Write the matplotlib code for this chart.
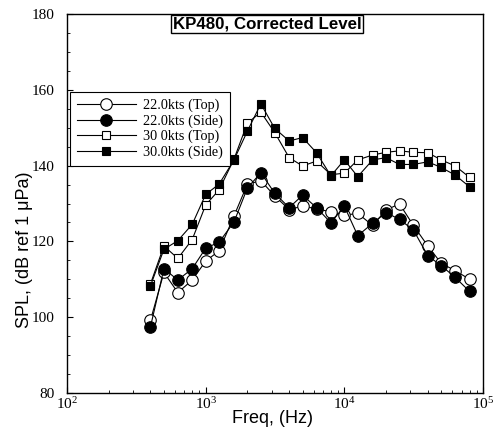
import numpy as np
import matplotlib
matplotlib.use("Agg")
import matplotlib.pyplot as plt
from matplotlib.ticker import LogLocator, MultipleLocator

# 1/3-octave band centre frequencies (Hz)
freq = [400, 500, 630, 800, 1000, 1250, 1600, 2000, 2500, 3150, 4000, 5000,
        6300, 8000, 10000, 12500, 16000, 20000, 25000, 31500, 40000, 50000,
        63000, 80000]

# SPL (dB ref 1 uPa)
spl_22_top = [99.2, 111.8, 106.5, 109.8, 114.8, 117.5, 126.7, 135.1, 136.0, 132.0,
              128.4, 129.3, 128.6, 127.8, 126.9, 127.4, 124.2, 128.3, 129.9, 124.2,
              118.8, 114.2, 112.3, 110.0]
spl_22_side = [97.5, 112.8, 109.8, 112.8, 118.2, 119.8, 125.1, 134.1, 138.1, 132.7,
               128.9, 132.2, 128.9, 124.9, 129.3, 121.5, 124.8, 127.6, 125.8, 123.0,
               116.2, 113.6, 110.5, 106.8]
spl_30_top = [108.8, 118.8, 115.5, 120.5, 129.6, 133.6, 141.7, 151.2, 154.1, 148.7,
              142.1, 139.9, 141.2, 137.6, 138.0, 141.5, 142.8, 143.5, 143.9, 143.5,
              143.4, 141.5, 139.9, 136.9]
spl_30_side = [108.3, 117.9, 120.2, 124.5, 132.4, 135.1, 141.5, 149.1, 156.3, 149.8,
               146.5, 147.4, 143.4, 137.3, 141.5, 137.1, 141.5, 142.1, 140.3, 140.3,
               141.0, 139.5, 137.5, 134.4]

labels = ["22.0kts (Top)", "22.0kts (Side)", "30 0kts (Top)", "30.0kts (Side)"]

plt.rcParams['font.family'] = ['Liberation Serif', 'DejaVu Serif']

fig = plt.figure(figsize=(4.95, 4.32), dpi=100)
ax = fig.add_axes([67 / 495, 1 - 393 / 432, 416 / 495, 379 / 432])

ax.plot(freq, spl_22_top, '-', color='black', lw=0.8, marker='o', ms=8.3,
        mfc='white', mec='black', mew=0.8, label=labels[0])
ax.plot(freq, spl_22_side, '-', color='black', lw=0.8, marker='o', ms=8.3,
        mfc='black', mec='black', mew=0.8, label=labels[1])
ax.plot(freq, spl_30_top, '-', color='black', lw=0.8, marker='s', ms=6.2,
        mfc='white', mec='black', mew=0.8, label=labels[2])
ax.plot(freq, spl_30_side, '-', color='black', lw=0.8, marker='s', ms=6.2,
        mfc='black', mec='black', mew=0.8, label=labels[3])

ax.set_xscale('log')
ax.set_xlim(1e2, 1e5)
ax.set_ylim(80, 180)
ax.yaxis.set_major_locator(MultipleLocator(20))
ax.yaxis.set_minor_locator(MultipleLocator(5))
ax.xaxis.set_major_locator(LogLocator(base=10))
ax.xaxis.set_minor_locator(LogLocator(base=10, subs=np.arange(2, 10)))

ax.tick_params(which='both', direction='in', labelsize=11)
ax.tick_params(which='major', length=4, width=0.8)
ax.tick_params(which='minor', length=2, width=0.6)
ax.tick_params(axis='y', pad=9)
ax.tick_params(axis='x', pad=2)
for s in ax.spines.values():
    s.set_linewidth(1.0)

ax.set_xlabel('Freq, (Hz)', family='Liberation Sans', fontsize=13)
ax.set_ylabel('SPL, (dB ref 1 \u03bcPa)', family='Liberation Sans', fontsize=13)
ax.xaxis.set_label_coords(0.493, -0.045)
ax.yaxis.set_label_coords(-0.103, 0.377)
ax.yaxis.label.set_va('center')

ax.text(0.481, 0.974, 'KP480, Corrected Level', transform=ax.transAxes,
        ha='center', va='center', family='Liberation Sans', weight='bold',
        fontsize=12.2,
        bbox=dict(boxstyle='square,pad=0.08', fc='white', ec='black', lw=1.0))

leg = ax.legend(loc='upper left', bbox_to_anchor=(0.007, 0.795),
                borderaxespad=0, fancybox=False, edgecolor='black',
                framealpha=1, fontsize=10.3, handlelength=4.1,
                handletextpad=0.5, labelspacing=0.14, borderpad=0.5)
leg.get_frame().set_linewidth(0.8)

fig.savefig('out.png', dpi=100)
